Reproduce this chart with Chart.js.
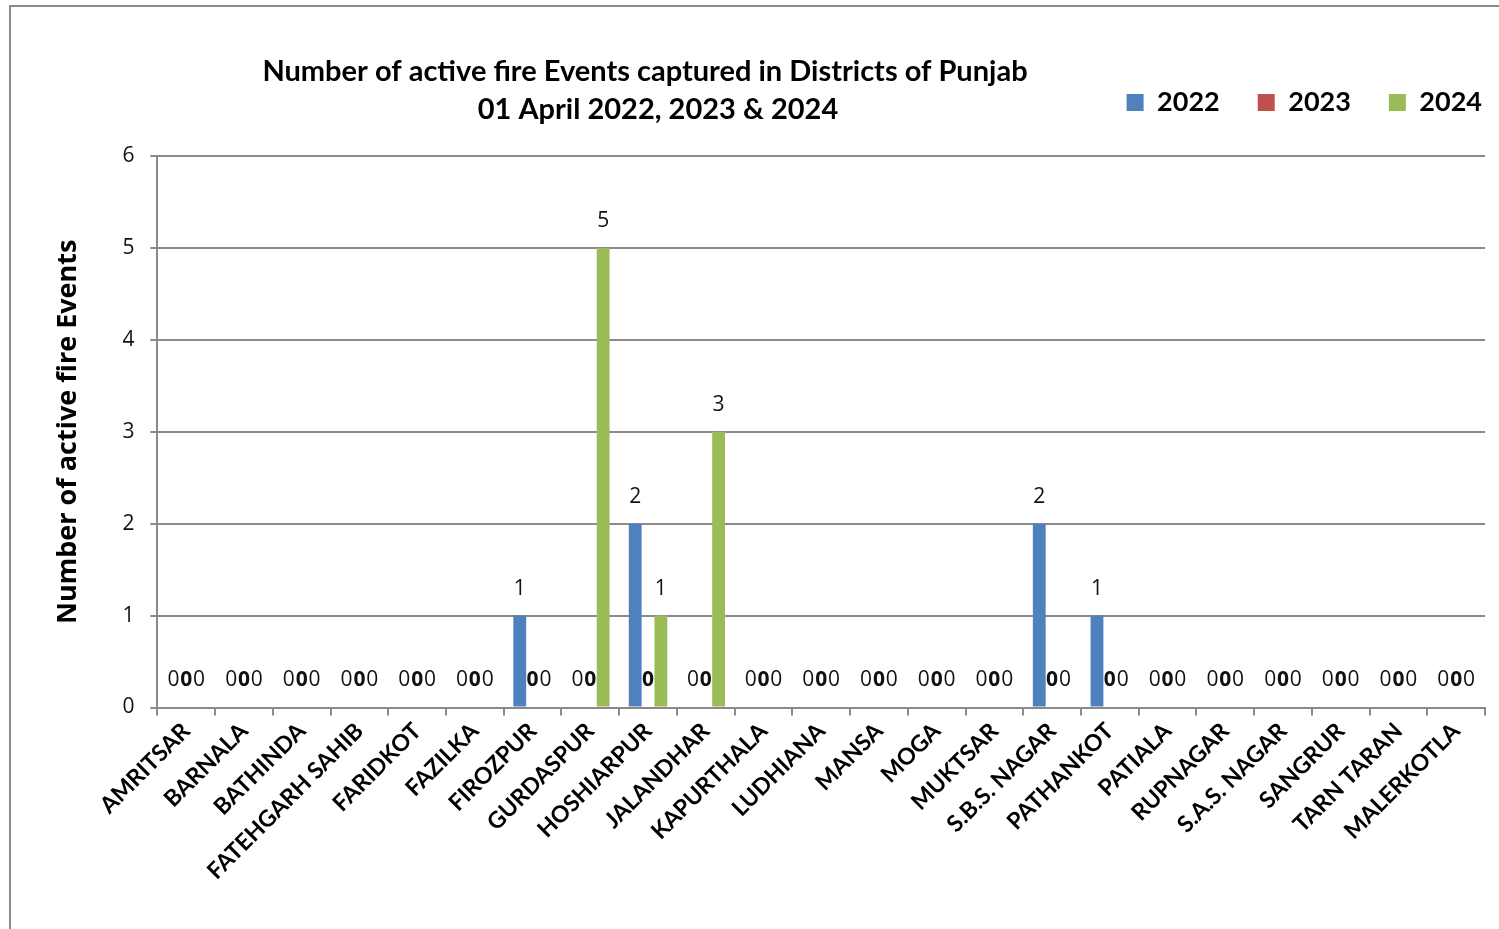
<!DOCTYPE html>
<html lang="en">
<head>
    <meta charset="UTF-8">
    <title>Active fire events - Punjab districts</title>
    <script src="https://cdn.jsdelivr.net/npm/chart.js"></script>
    <style>
        body { margin: 0; background: #fff; overflow: hidden; }
        #frame { position: absolute; left: 9px; top: 5px; width: 1600px; height: 1000px; border: 2px solid #8a8a8a; pointer-events: none; }
        #chart { position: absolute; left: 0; top: 0; }
    </style>
</head>
<body>
    <canvas id="chart" width="1499" height="929"></canvas>
    <div id="frame"></div>

    <script>
        // Datos
        const districts = ['AMRITSAR', 'BARNALA', 'BATHINDA', 'FATEHGARH SAHIB', 'FARIDKOT', 'FAZILKA',
            'FIROZPUR', 'GURDASPUR', 'HOSHIARPUR', 'JALANDHAR', 'KAPURTHALA', 'LUDHIANA', 'MANSA',
            'MOGA', 'MUKTSAR', 'S.B.S. NAGAR', 'PATHANKOT', 'PATIALA', 'RUPNAGAR', 'S.A.S. NAGAR',
            'SANGRUR', 'TARN TARAN', 'MALERKOTLA'];
        const events2022 = [0, 0, 0, 0, 0, 0, 1, 0, 2, 0, 0, 0, 0, 0, 0, 2, 1, 0, 0, 0, 0, 0, 0];
        const events2023 = [0, 0, 0, 0, 0, 0, 0, 0, 0, 0, 0, 0, 0, 0, 0, 0, 0, 0, 0, 0, 0, 0, 0];
        const events2024 = [0, 0, 0, 0, 0, 0, 0, 5, 1, 3, 0, 0, 0, 0, 0, 0, 0, 0, 0, 0, 0, 0, 0];
        const yTicks = [0, 1, 2, 3, 4, 5, 6];
        const titleLines = ['Number of active fire Events captured in Districts of Punjab', '01 April 2022, 2023 & 2024'];

        const gridColor = '#8a8a8a';

        // titulo en dos lineas, a la izquierda de la leyenda
        const titlePlugin = {
            id: 'titlePlugin',
            afterLayout(chart) {
                // subir la leyenda y pegarla al borde derecho
                const lg = chart.legend;
                lg.top -= 30; lg.bottom -= 30;
                lg.left += 35; lg.right += 35;
            },
            afterDraw(chart) {
                const ctx = chart.ctx;
                ctx.save();
                ctx.font = 'bold 29px Lato';
                ctx.fillStyle = '#000';
                ctx.textAlign = 'center';
                ctx.textBaseline = 'middle';
                ctx.fillText(titleLines[0], 645, 72);
                ctx.fillText(titleLines[1], 658, 110);
                ctx.restore();
            }
        };

        // etiquetas de valor encima de cada barra (tambien los ceros)
        const valueLabels = {
            id: 'valueLabels',
            afterDatasetsDraw(chart) {
                const ctx = chart.ctx;
                chart.data.datasets.forEach((ds, i) => {
                    const meta = chart.getDatasetMeta(i);
                    meta.data.forEach((bar, j) => {
                        ctx.save();
                        ctx.font = (i === 1 ? 'bold ' : '') + '21px "Open Sans"';
                        ctx.fillStyle = '#111';
                        ctx.textAlign = 'center';
                        ctx.textBaseline = 'middle';
                        ctx.fillText(ds.data[j], bar.x, bar.y - 27);
                        ctx.restore();
                    });
                });
            }
        };

        new Chart(document.getElementById('chart'), {
            type: 'bar',
            data: {
                labels: districts,
                datasets: [
                    { label: '2022', data: events2022, backgroundColor: '#4F81BD', borderWidth: 0 },
                    { label: '2023', data: events2023, backgroundColor: '#C0504D', borderWidth: 0 },
                    { label: '2024', data: events2024, backgroundColor: '#9BBB59', borderWidth: 0 }
                ]
            },
            options: {
                responsive: false,
                animation: false,
                devicePixelRatio: 1,
                datasets: { bar: { barPercentage: 1, categoryPercentage: 0.667 } },
                layout: { padding: { top: 81, right: 14, left: 10, bottom: 42 } },
                plugins: {
                    title: { display: false },
                    tooltip: { enabled: false },
                    legend: {
                        position: 'top',
                        align: 'end',
                        labels: {
                            boxWidth: 17,
                            boxHeight: 17,
                            padding: 38,
                            color: '#000',
                            font: { family: 'Lato', size: 27, weight: 'bold' }
                        }
                    }
                },
                scales: {
                    x: {
                        grid: { display: true, drawOnChartArea: false, color: gridColor, lineWidth: 2, tickLength: 8, offset: true },
                        border: { color: gridColor, width: 2 },
                        ticks: {
                            autoSkip: false,
                            maxRotation: 45,
                            minRotation: 45,
                            padding: 2,
                            color: '#000',
                            font: { family: 'Lato', size: 23, weight: 'bold' }
                        }
                    },
                    y: {
                        min: 0,
                        max: 6,
                        afterBuildTicks(scale) { scale.ticks = yTicks.map(v => ({ value: v })); },
                        grid: { color: gridColor, lineWidth: 2, tickLength: 7 },
                        border: { color: gridColor, width: 2 },
                        ticks: {
                            padding: 16,
                            color: '#111',
                            font: { family: 'Open Sans', size: 21 }
                        },
                        title: {
                            display: true,
                            text: 'Number of active fire Events',
                            color: '#000',
                            padding: { top: 42, bottom: 22 },
                            font: { family: 'Open Sans', size: 27, weight: 'bold' }
                        }
                    }
                }
            },
            plugins: [titlePlugin, valueLabels]
        });
    </script>
</body>
</html>
